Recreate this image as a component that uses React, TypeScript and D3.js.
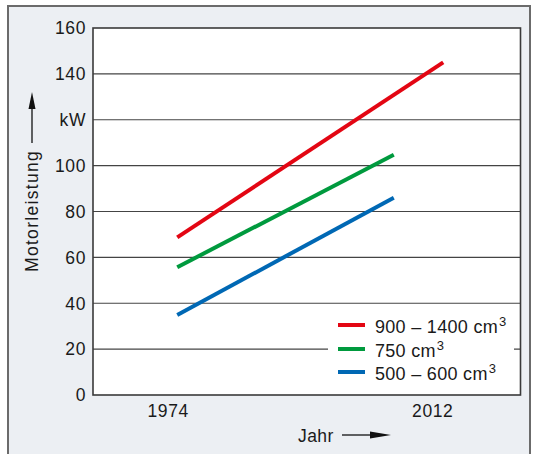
import React from "react";
import * as d3 from "d3";

const W = 537;
const H = 454;

const seriesNames = ["900 – 1400 cm", "750 cm", "500 – 600 cm"];
const seriesColors = ["#e30613", "#009a3e", "#0068b4"];
const startYears = [1975.3, 1975.3, 1975.3];
const endYears = [2013.5, 2006.4, 2006.4];
const startValues = [68.7, 55.7, 34.9];
const endValues = [145.0, 104.7, 86.0];

const xTickYears = [1974, 2012];
const yTicks = [0, 20, 40, 60, 80, 100, 120, 140, 160];
const yTickLabels = ["0", "20", "40", "60", "80", "100", "kW", "140", "160"];

const FONT = "'Liberation Sans', Arial, Helvetica, sans-serif";

export default function App() {
  const plot = { left: 93, right: 520.5, top: 28, bottom: 395 };
  const x = d3.scaleLinear().domain([1963.2, 2024.6]).range([plot.left, plot.right]);
  const y = d3.scaleLinear().domain([0, 160]).range([plot.bottom, plot.top]);
  const line = d3
    .line<[number, number]>()
    .x((d) => x(d[0]))
    .y((d) => y(d[1]));

  const legend = { x0: 328, x1: 514, y0: 304, y1: 394 };
  const legendRowY = [325, 349, 372];

  return (
    <svg
      width={W}
      height={H}
      style={{ position: "absolute", left: 0, top: 0, display: "block" }}
      fontFamily={FONT}
    >
      <rect x={0} y={0} width={W} height={H} fill="#ffffff" />
      <rect x={8} y={6} width={522} height={H + 10} fill="#eceff3" stroke="#6b6b6b" strokeWidth={2} />

      {/* plot background */}
      <rect
        x={plot.left}
        y={plot.top}
        width={plot.right - plot.left}
        height={plot.bottom - plot.top}
        fill="#ffffff"
      />

      {/* gridlines */}
      {yTicks.slice(1, -1).map((t) => (
        <line
          key={t}
          x1={plot.left}
          x2={plot.right}
          y1={y(t)}
          y2={y(t)}
          stroke="#444"
          strokeWidth={1.2}
        />
      ))}

      {/* legend box */}
      <rect x={legend.x0} y={legend.y0} width={legend.x1 - legend.x0} height={legend.y1 - legend.y0} fill="#ffffff" />

      {/* series */}
      {seriesNames.map((name, i) => (
        <path
          key={name}
          d={line([
            [startYears[i], startValues[i]],
            [endYears[i], endValues[i]],
          ]) || ""}
          fill="none"
          stroke={seriesColors[i]}
          strokeWidth={4}
        />
      ))}

      {/* plot frame */}
      <rect
        x={plot.left}
        y={plot.top}
        width={plot.right - plot.left}
        height={plot.bottom - plot.top}
        fill="none"
        stroke="#3a3a3a"
        strokeWidth={1.6}
      />

      {/* y tick labels */}
      {yTicks.map((t, i) => (
        <text
          key={t}
          x={86}
          y={y(t)}
          dy="0.36em"
          textAnchor="end"
          fontSize={17.5}
          letterSpacing={0.6}
          fill="#1a1a1a"
        >
          {yTickLabels[i]}
        </text>
      ))}

      {/* x tick labels */}
      {xTickYears.map((yr) => (
        <text
          key={yr}
          x={x(yr)}
          y={417}
          textAnchor="middle"
          fontSize={17.5}
          letterSpacing={0.6}
          fill="#1a1a1a"
        >
          {yr}
        </text>
      ))}

      {/* x axis title */}
      <text x={298} y={442} fontSize={17.5} letterSpacing={0.4} fill="#1a1a1a">
        Jahr
      </text>
      <line x1={342} x2={374} y1={435} y2={435} stroke="#111" strokeWidth={1.3} />
      <path d="M370,431.5 L391,435 L370,438.5 Z" fill="#111" />

      {/* y axis title */}
      <text
        transform={`translate(38,211) rotate(-90)`}
        textAnchor="middle"
        fontSize={17.5}
        letterSpacing={1.3}
        fill="#1a1a1a"
      >
        Motorleistung
      </text>
      <line x1={32} x2={32} y1={143} y2={105} stroke="#111" strokeWidth={1.3} />
      <path d="M28.5,109 L32,92 L35.5,109 Z" fill="#111" />

      {/* legend entries */}
      {seriesNames.map((name, i) => (
        <g key={name}>
          <line
            x1={338}
            x2={365}
            y1={legendRowY[i]}
            y2={legendRowY[i]}
            stroke={seriesColors[i]}
            strokeWidth={4}
          />
          <text x={375} y={legendRowY[i] + 7.5} fontSize={18} letterSpacing={0.3} fill="#1a1a1a">
            {name}
            <tspan dx={1} dy={-7} fontSize={13}>
              3
            </tspan>
          </text>
        </g>
      ))}
    </svg>
  );
}
